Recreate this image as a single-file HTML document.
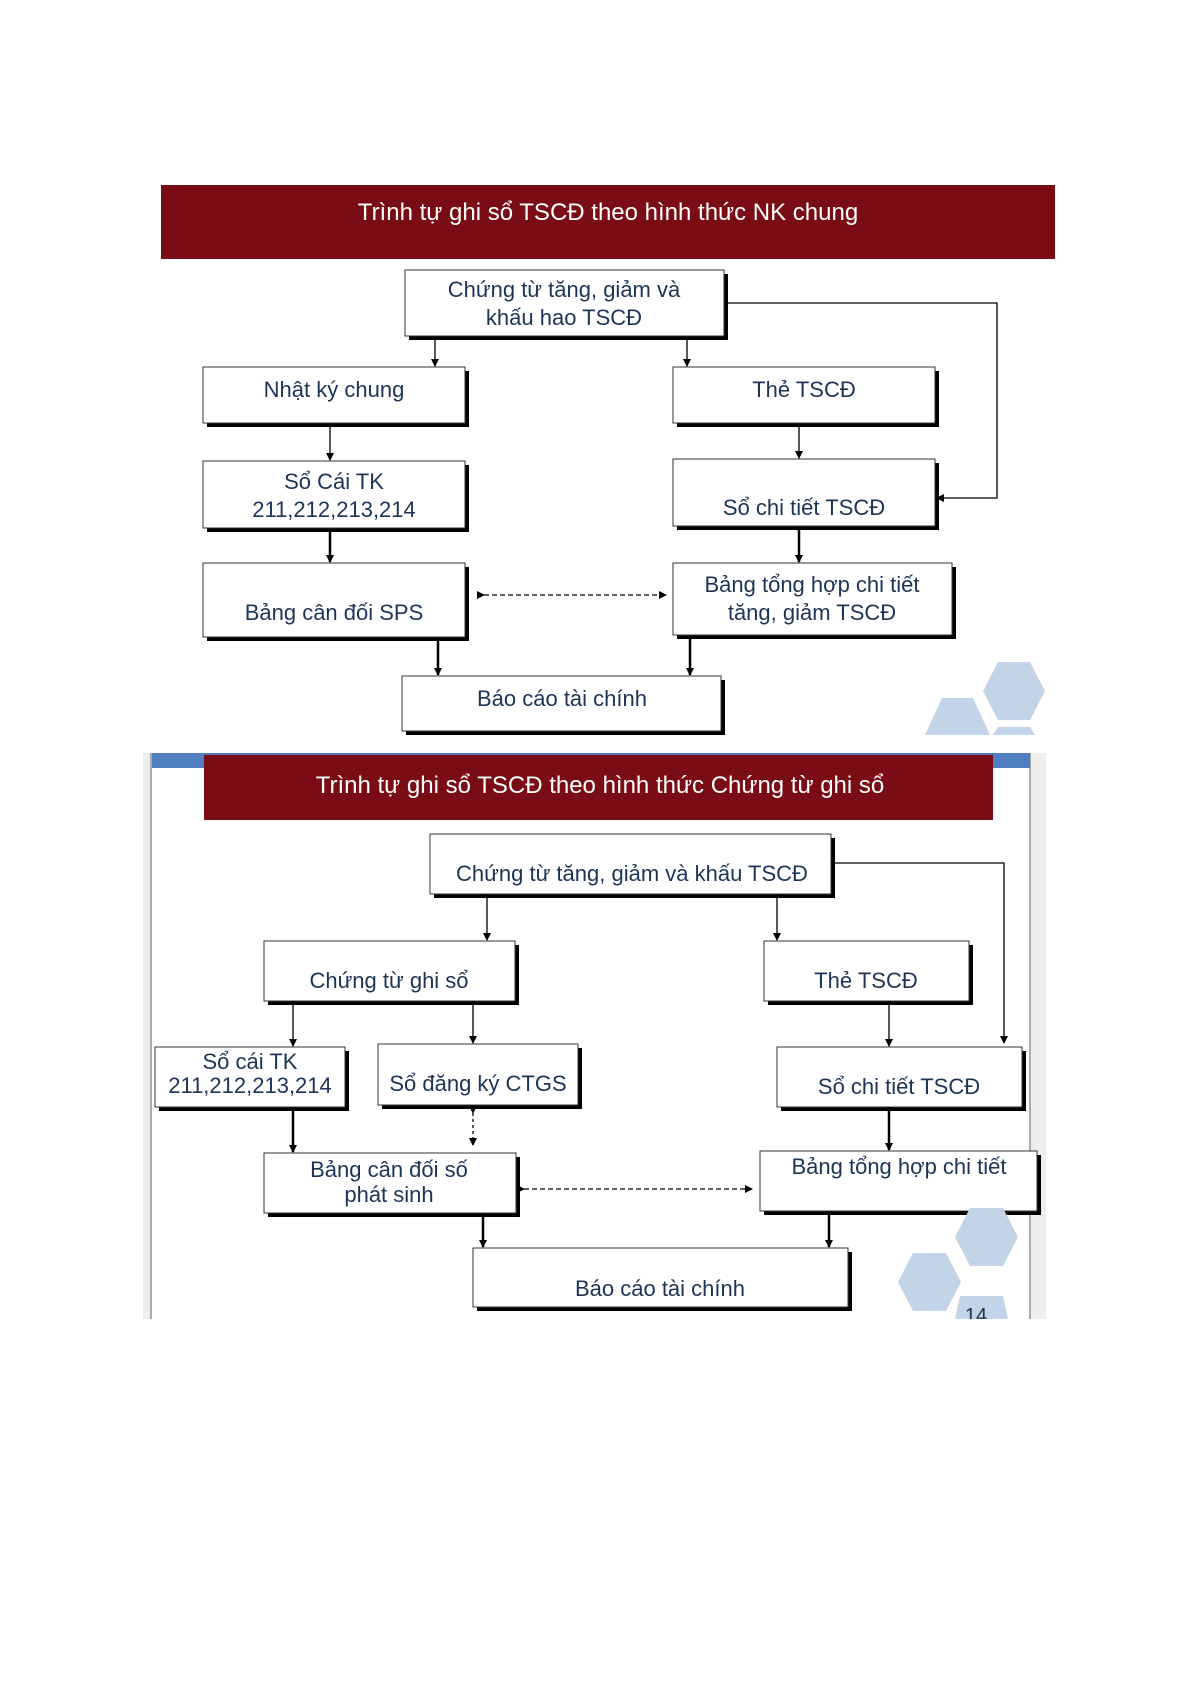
<!DOCTYPE html>
<html><head><meta charset="utf-8"><style>
html,body{margin:0;padding:0;background:#fff;width:1192px;height:1685px;overflow:hidden}
svg{display:block}
text{font-family:"Liberation Sans Narrow","Liberation Sans","DejaVu Sans",sans-serif;fill:#1c3557;font-size:22px;text-anchor:middle}
.t{fill:#fff;font-size:24px}
</style></head><body>
<svg width="1192" height="1685" viewBox="0 0 1192 1685" xmlns="http://www.w3.org/2000/svg">
<defs>
<marker id="a" markerWidth="8" markerHeight="8" refX="7" refY="4" orient="auto" markerUnits="userSpaceOnUse"><path d="M0,0 L8,4 L0,8 z" fill="#000"/></marker>
</defs>
<!-- Diagram 1 -->
<rect x="161" y="185" width="894" height="74" fill="#7a0c16"/>
<text class="t" x="608" y="220">Trình tự ghi sổ TSCĐ theo hình thức NK chung</text>
<g fill="#000">
<rect x="409" y="274" width="319" height="66"/>
<rect x="207" y="371" width="262" height="56"/>
<rect x="677" y="371" width="262" height="56"/>
<rect x="207" y="465" width="262" height="67"/>
<rect x="677" y="463" width="262" height="67"/>
<rect x="207" y="567" width="262" height="74"/>
<rect x="677" y="567" width="279" height="72"/>
<rect x="406" y="680" width="319" height="55"/>
</g>
<g fill="#fff" stroke="#333" stroke-width="1">
<rect x="405" y="270" width="319" height="66"/>
<rect x="203" y="367" width="262" height="56"/>
<rect x="673" y="367" width="262" height="56"/>
<rect x="203" y="461" width="262" height="67"/>
<rect x="673" y="459" width="262" height="67"/>
<rect x="203" y="563" width="262" height="74"/>
<rect x="673" y="563" width="279" height="72"/>
<rect x="402" y="676" width="319" height="55"/>
</g>
<text x="564" y="297">Chứng từ tăng, giảm và</text>
<text x="564" y="325">khấu hao TSCĐ</text>
<text x="334" y="397">Nhật ký chung</text>
<text x="804" y="397">Thẻ TSCĐ</text>
<text x="334" y="489">Sổ Cái TK</text>
<text x="334" y="517">211,212,213,214</text>
<text x="804" y="515">Sổ chi tiết TSCĐ</text>
<text x="334" y="620">Bảng cân đối SPS</text>
<text x="812" y="592">Bảng tổng hợp chi tiết</text>
<text x="812" y="620">tăng, giảm TSCĐ</text>
<text x="562" y="706">Báo cáo tài chính</text>
<g stroke="#000" fill="none" stroke-width="1.3">
<line x1="435" y1="340" x2="435" y2="366" marker-end="url(#a)"/>
<line x1="687" y1="340" x2="687" y2="366" marker-end="url(#a)"/>
<polyline points="728,303 997,303 997,498 937,498" marker-end="url(#a)"/>
<line x1="330" y1="427" x2="330" y2="460" marker-end="url(#a)"/>
<line x1="799" y1="427" x2="799" y2="458" marker-end="url(#a)"/>
<line x1="330" y1="532" x2="330" y2="562" stroke-width="2.5" marker-end="url(#a)"/>
<line x1="799" y1="530" x2="799" y2="562" stroke-width="2.5" marker-end="url(#a)"/>
<line x1="438" y1="641" x2="438" y2="675" stroke-width="2.5" marker-end="url(#a)"/>
<line x1="690" y1="639" x2="690" y2="675" stroke-width="2.5" marker-end="url(#a)"/>
<line x1="484" y1="595" x2="666" y2="595" stroke-dasharray="5,3" marker-end="url(#a)" marker-start="url(#a)"/>
</g>
<g fill="#c3d3e8">
<polygon points="983,691 998,662 1030,662 1045,691 1030,720 998,720"/>
<polygon points="925,735 942,698 973,698 990,735"/>
<polygon points="993,735 998,727 1030,727 1035,735"/>
</g>
<!-- Diagram 2 frame -->
<rect x="143" y="753" width="8" height="566" fill="#eee"/>
<line x1="151" y1="753" x2="151" y2="1319" stroke="#aaa" stroke-width="2"/>
<rect x="1030" y="753" width="16" height="566" fill="#eee"/>
<line x1="1030" y1="753" x2="1030" y2="1319" stroke="#aaa" stroke-width="2"/>
<rect x="152" y="753" width="878" height="15" fill="#4f7fc0"/>
<rect x="204" y="755" width="789" height="65" fill="#7a0c16"/>
<text class="t" x="600" y="793">Trình tự ghi sổ TSCĐ theo hình thức Chứng từ ghi sổ</text>
<g fill="#000">
<rect x="434" y="838" width="401" height="60"/>
<rect x="268" y="945" width="251" height="60"/>
<rect x="768" y="945" width="205" height="60"/>
<rect x="159" y="1051" width="190" height="60"/>
<rect x="382" y="1048" width="200" height="61"/>
<rect x="781" y="1051" width="245" height="60"/>
<rect x="268" y="1157" width="252" height="60"/>
<rect x="764" y="1155" width="277" height="60"/>
<rect x="477" y="1252" width="375" height="59"/>
</g>
<g fill="#fff" stroke="#333" stroke-width="1">
<rect x="430" y="834" width="401" height="60"/>
<rect x="264" y="941" width="251" height="60"/>
<rect x="764" y="941" width="205" height="60"/>
<rect x="155" y="1047" width="190" height="60"/>
<rect x="378" y="1044" width="200" height="61"/>
<rect x="777" y="1047" width="245" height="60"/>
<rect x="264" y="1153" width="252" height="60"/>
<rect x="760" y="1151" width="277" height="60"/>
<rect x="473" y="1248" width="375" height="59"/>
</g>
<text x="632" y="881">Chứng từ tăng, giảm và khấu TSCĐ</text>
<text x="389" y="988">Chứng từ ghi sổ</text>
<text x="866" y="988">Thẻ TSCĐ</text>
<text x="250" y="1069">Sổ cái TK</text>
<text x="250" y="1093">211,212,213,214</text>
<text x="478" y="1091">Sổ đăng ký CTGS</text>
<text x="899" y="1094">Sổ chi tiết TSCĐ</text>
<text x="389" y="1177">Bảng cân đối số</text>
<text x="389" y="1202">phát sinh</text>
<text x="899" y="1174">Bảng tổng hợp chi tiết</text>
<text x="660" y="1296">Báo cáo tài chính</text>
<g stroke="#000" fill="none" stroke-width="1.3">
<line x1="487" y1="894" x2="487" y2="940" marker-end="url(#a)"/>
<line x1="777" y1="894" x2="777" y2="940" marker-end="url(#a)"/>
<polyline points="831,863 1004,863 1004,1043" marker-end="url(#a)"/>
<line x1="293" y1="1001" x2="293" y2="1046" marker-end="url(#a)"/>
<line x1="473" y1="1001" x2="473" y2="1043" marker-end="url(#a)"/>
<line x1="889" y1="1001" x2="889" y2="1046" marker-end="url(#a)"/>
<line x1="293" y1="1107" x2="293" y2="1152" stroke-width="2.5" marker-end="url(#a)"/>
<line x1="889" y1="1107" x2="889" y2="1150" stroke-width="2.5" marker-end="url(#a)"/>
<line x1="473" y1="1113" x2="473" y2="1145" stroke-dasharray="3,3" marker-end="url(#a)" marker-start="url(#a)"/>
<line x1="524" y1="1189" x2="752" y2="1189" stroke-dasharray="5,3" marker-end="url(#a)" marker-start="url(#a)"/>
<line x1="483" y1="1213" x2="483" y2="1247" stroke-width="2.5" marker-end="url(#a)"/>
<line x1="829" y1="1211" x2="829" y2="1247" stroke-width="2.5" marker-end="url(#a)"/>
</g>
<g fill="#c3d3e8">
<polygon points="955,1237 970,1208 1003,1208 1018,1237 1003,1266 970,1266"/>
<polygon points="898,1282 913,1253 946,1253 961,1282 946,1311 913,1311"/>
<polygon points="955,1319 960,1296 1003,1296 1008,1319"/>
</g>
<text x="976" y="1322" style="font-size:20px">14</text>
<rect x="0" y="1319" width="1192" height="366" fill="#fff"/>
</svg>
</body></html>
